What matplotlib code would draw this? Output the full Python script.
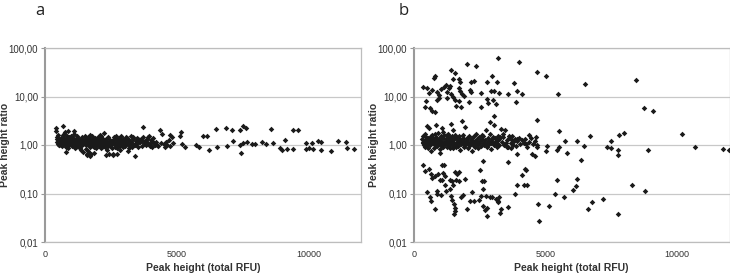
# -*- coding: utf-8 -*-

""" Peak height ratio vs peak height, panels a and b """

import matplotlib
matplotlib.use('Agg')
import matplotlib.pyplot as plt

plt.rcParams['font.family'] = ['Liberation Sans', 'DejaVu Sans']

y_ticks = [0.01, 0.1, 1, 10, 100]
y_tick_labels = ['0,01', '0,10', '1,00', '10,00', '100,00']
x_ticks = [0, 5000, 10000]
x_tick_labels = ['0', '5000', '10000']
panel_names = ['a', 'b']

# ---- panel a : dense band around 1 ----
a_x = [420, 430, 445, 460, 480, 500, 510, 530, 550, 570, 590, 460, 520, 560, 600, 610,
       640, 660, 700, 720, 740, 760, 780, 800, 820, 840, 860, 880, 900, 920, 940, 960, 980,
       650, 690, 730, 770, 810, 850, 890, 930, 970, 620, 750, 870, 990,
       1010, 1030, 1050, 1070, 1090, 1110, 1130, 1150, 1170, 1190, 1210, 1230, 1250, 1270,
       1290, 1310, 1330, 1350, 1370, 1390, 1410, 1430, 1450, 1470, 1490, 1020, 1060, 1100,
       1140, 1180, 1220, 1260, 1300, 1340, 1380, 1420, 1460, 1500,
       1520, 1540, 1560, 1580, 1600, 1620, 1640, 1660, 1680, 1700, 1720, 1740, 1760, 1780,
       1800, 1820, 1840, 1860, 1880, 1900, 1920, 1940, 1960, 1980, 2000, 1550, 1590, 1630,
       1670, 1710, 1750, 1790, 1830, 1870, 1910, 1950, 1610, 1690, 1770, 1850,
       2020, 2040, 2060, 2080, 2100, 2120, 2140, 2160, 2180, 2200, 2220, 2240, 2260, 2280,
       2300, 2320, 2340, 2360, 2380, 2400, 2420, 2440, 2460, 2480, 2500, 2050, 2090, 2130,
       2170, 2210, 2250, 2290, 2330, 2370, 2410, 2450,
       2520, 2540, 2560, 2580, 2600, 2620, 2640, 2660, 2680, 2700, 2720, 2740, 2760, 2780,
       2800, 2820, 2840, 2860, 2880, 2900, 2920, 2940, 2960, 2980, 3000, 2550, 2610, 2670,
       2730, 2790, 2850, 2910, 2970, 2570, 2690,
       3020, 3050, 3080, 3110, 3140, 3170, 3200, 3230, 3260, 3290, 3320, 3350, 3380, 3410,
       3440, 3470, 3500, 3530, 3560, 3590, 3060, 3120, 3180, 3240, 3300, 3360, 3420, 3480, 3540,
       3620, 3650, 3690, 3720, 3760, 3800, 3840, 3880, 3920, 3960, 4000, 4040, 4080, 4120,
       4160, 4200, 3670, 3740, 3820, 3900, 3980, 4060, 4140,
       4250, 4300, 4400, 4500, 4550, 4600, 4650, 4700, 4750, 4850,
       4353, 4454, 4759, 4810, 5165, 5127, 5216, 5305, 5749, 5850, 5990, 6155, 6231, 6485,
       6536, 6891, 7107, 6929, 7145, 7424, 7500, 7614, 7424, 7449, 7525, 7652, 7868, 7982,
       8236, 8376, 8591, 8668, 8921, 8985, 9112, 9201, 9416, 9607, 9429, 9911, 9911, 10038,
       10140, 10190, 10381, 10470, 10495, 10850, 11117, 11447, 11472, 11739]
a_y = [2.25, 1.95, 1.45, 1.15, 1.05, 1.62, 1.30, 1.10, 0.98, 1.20, 1.35, 1.30, 1.00, 1.15, 1.08, 1.40,
       1.25, 1.10, 2.45, 1.40, 1.70, 1.05, 1.18, 0.72, 1.55, 1.30, 1.95, 1.12, 1.00, 1.45, 1.22, 1.08, 1.35,
       0.95, 1.60, 1.15, 1.28, 0.90, 1.05, 1.38, 1.20, 1.50, 1.02, 1.85, 0.88, 1.15,
       1.20, 0.95, 1.40, 1.10, 1.65, 1.00, 1.25, 0.85, 1.12, 1.35, 0.98, 1.50, 1.05, 1.18,
       0.90, 1.30, 1.08, 1.22, 0.80, 1.45, 1.02, 1.15, 0.72, 1.28, 1.10, 1.32, 1.06, 1.90,
       1.16, 0.92, 1.42, 1.00, 1.20, 0.88, 1.12, 1.26, 1.04, 1.55,
       1.15, 0.82, 1.30, 1.05, 0.62, 1.48, 1.20, 0.68, 1.00, 1.35, 0.92, 1.10, 0.65, 1.25,
       1.55, 0.95, 1.12, 0.70, 1.38, 1.02, 1.18, 0.88, 1.28, 1.06, 1.45, 1.00, 1.22, 0.76,
       1.14, 1.60, 0.98, 1.08, 1.32, 0.90, 1.20, 1.04, 0.66, 0.60, 1.16, 1.24,
       1.10, 0.94, 1.28, 1.02, 1.62, 1.15, 0.88, 1.05, 1.40, 0.98, 1.20, 1.75, 1.08, 0.92,
       1.30, 1.00, 1.18, 0.80, 1.12, 1.45, 1.04, 0.65, 1.24, 0.95, 1.10, 1.35, 1.06, 1.52,
       0.90, 1.16, 1.00, 1.26, 0.62, 1.08, 0.96, 1.20,
       1.00, 1.22, 0.85, 1.10, 0.64, 1.35, 1.05, 0.92, 1.18, 1.50, 1.02, 0.88, 1.28, 1.12,
       0.98, 1.40, 1.06, 0.80, 1.20, 1.55, 1.00, 1.15, 0.90, 1.32, 1.08, 1.14, 1.45, 1.04,
       0.64, 1.24, 0.95, 1.10, 1.20, 0.62, 1.30,
       1.25, 0.95, 1.45, 1.08, 0.75, 1.30, 1.02, 1.18, 1.50, 0.92, 1.12, 1.35, 1.00, 0.58,
       1.22, 1.06, 1.40, 0.90, 1.15, 1.28, 1.10, 1.38, 0.88, 1.20, 1.05, 1.48, 1.00, 1.16, 1.32,
       1.15, 1.30, 0.95, 1.45, 1.08, 1.22, 0.98, 1.35, 1.12, 1.50, 1.05, 1.28, 0.92, 1.40,
       1.00, 1.18, 1.25, 2.35, 1.10, 1.48, 0.96, 1.20, 1.10,
       1.00, 0.95, 1.10, 1.05, 0.92, 1.15, 1.00, 1.25, 0.95, 1.10,
       2.07, 1.71, 1.58, 1.45, 1.88, 1.51, 1.05, 0.89, 1.00, 0.93, 1.51, 1.51, 0.78, 2.10,
       0.93, 2.20, 2.00, 0.97, 1.19, 2.00, 2.43, 2.20, 1.02, 0.68, 1.10, 1.17, 1.07, 1.03,
       1.15, 1.07, 2.17, 1.10, 0.85, 0.79, 1.26, 0.81, 2.07, 2.00, 0.81, 1.10, 0.83, 0.88,
       1.10, 0.83, 1.19, 1.13, 0.79, 0.76, 1.20, 1.15, 0.85, 0.83]

# ---- panel b : band around 1 plus upper and lower groups ----
b_x = [320, 340, 360, 380, 400, 420, 440, 460, 480, 500, 520, 540, 560, 580, 600, 620,
       640, 660, 680, 700, 350, 410, 470, 530, 590, 650,
       720, 740, 760, 780, 800, 820, 840, 860, 880, 900, 920, 940, 960, 980, 1000, 1020,
       1040, 1060, 1080, 1100, 1120, 1140, 1160, 1180, 1200, 730, 790, 850, 910, 970, 1030,
       1090, 1150,
       1220, 1240, 1260, 1280, 1300, 1320, 1340, 1360, 1380, 1400, 1420, 1440, 1460, 1480,
       1500, 1520, 1540, 1560, 1580, 1600, 1620, 1640, 1660, 1680, 1700, 1720, 1740, 1760,
       1780, 1800, 1250, 1310, 1370, 1430, 1490, 1550, 1610, 1670, 1730,
       1830, 1860, 1890, 1920, 1950, 1980, 2010, 2040, 2070, 2100, 2130, 2160, 2190, 2220,
       2250, 2280, 2310, 2340, 2370, 2400, 2430, 2460, 2490, 1850, 1910, 1970, 2030, 2090,
       2150, 2210, 2270, 2330, 2390, 2450,
       2520, 2550, 2580, 2610, 2640, 2670, 2700, 2730, 2760, 2790, 2820, 2850, 2880, 2910,
       2940, 2970, 3000, 3030, 3060, 3090, 3120, 3150, 3180, 3210, 3240, 3270, 2600, 2680,
       2760, 2840, 2920, 3000, 3080, 3160, 3240,
       3330, 3380, 3430, 3480, 3530, 3580, 3630, 3680, 3730, 3780, 3830, 3880, 3930, 3980,
       4030, 4100, 4170, 4240, 4310, 4380, 4450, 4520, 4600, 4680, 3400, 3500, 3600, 3700,
       3800, 3900,
       # upper group
       3206, 3982, 2000, 2354, 4682, 5025, 1412, 1552, 801, 750, 2952, 2786, 3168, 2277,
       2163, 3817, 6514, 8448, 344, 496, 1501, 1718, 1743, 1209, 1030, 1132, 1336, 1374,
       1718, 1768, 1807, 1908, 865, 941, 967, 700, 573, 1272, 1260, 1425, 1476, 1552, 1603,
       1718, 1781, 2112, 2150, 2557, 2099, 2532, 2774, 2913, 3028, 3002, 2812, 3104, 3219,
       3588, 3880, 3906, 4097, 5496, 878, 611, 407, 458, 687, 789, 8753, 9084,
       # sparse around 1
       4682, 3053, 2875, 1807, 5522, 5725, 5814, 6196, 6705, 6450, 6336, 7328, 7481, 7494,
       7786, 7977, 7761, 7761, 8906, 10204, 10674, 11768, 11985, 5025, 5076, 5458, 5534,
       4669, 4605, 4504, 4631, 4377, 4262, 3715, 3524, 3308, 3181, 3931, 3575, 2608,
       # lower group
       4758, 7748, 6603, 6768, 7201, 5687, 5344, 5153, 4733, 6043, 6145, 6209, 5433, 8308,
       8779, 4313, 4173, 4122, 4224, 4262, 3919, 3855, 3562, 3257, 3321, 3206, 3181, 3117,
       3232, 2888, 2952, 2748, 2774, 2697, 2774, 2621, 2532, 2481, 2659, 2595, 2519, 2608,
       2188, 2265, 2112, 2023, 1845, 1781, 1578, 1527, 1552, 1527, 1450, 1399, 1387, 1489,
       1603, 1628, 1705, 1578, 1730, 1934, 1374, 1450, 1196, 1069, 1043, 865, 789, 662,
       623, 496, 356, 420, 560, 636, 687, 789, 916, 1069, 1145, 980, 1120, 1196, 878, 1221]
b_y = [1.35, 1.10, 1.55, 1.00, 1.25, 0.90, 1.45, 1.15, 2.50, 1.05, 1.30, 0.85, 1.20, 2.20, 1.40, 1.00,
       1.12, 0.75, 1.60, 1.25, 1.18, 1.70, 0.95, 1.38, 1.08, 1.50,
       1.10, 1.42, 0.88, 1.20, 1.65, 1.02, 2.60, 1.28, 0.95, 1.15, 1.80, 1.05, 1.35, 0.82, 1.22, 1.50,
       1.00, 2.20, 1.12, 0.92, 1.40, 1.18, 1.60, 1.05, 1.30, 1.25, 1.00, 1.48, 1.15, 0.70, 1.32,
       1.85, 1.08,
       1.15, 0.90, 1.38, 1.05, 1.70, 1.20, 0.98, 1.45, 1.10, 2.70, 1.28, 1.00, 1.55, 0.85,
       1.18, 1.35, 1.02, 1.62, 1.12, 0.92, 1.40, 1.08, 1.25, 0.95, 1.50, 1.15, 0.80, 1.30,
       1.05, 1.22, 1.60, 1.12, 0.88, 1.32, 2.00, 1.00, 1.45, 1.10, 1.20,
       1.10, 1.40, 0.92, 1.22, 2.30, 1.05, 1.30, 0.85, 1.15, 1.55, 1.00, 1.25, 0.75, 1.38,
       1.08, 0.95, 1.20, 1.65, 1.02, 1.30, 0.88, 1.12, 1.45, 1.60, 1.00, 1.18, 1.42, 0.98,
       1.10, 1.28, 1.50, 0.92, 1.15, 1.05,
       1.20, 0.95, 1.35, 1.08, 1.50, 1.00, 1.28, 2.00, 1.12, 0.90, 1.42, 1.05, 1.65, 1.18,
       0.82, 1.30, 1.10, 2.60, 1.02, 1.38, 1.15, 0.92, 1.55, 1.25, 1.00, 1.45, 1.60, 1.10,
       0.98, 1.20, 1.08, 1.45, 1.18, 1.05, 1.30,
       1.15, 1.45, 1.00, 2.05, 1.25, 0.90, 1.38, 1.10, 1.55, 1.02, 1.30, 0.95, 1.20, 1.40,
       1.05, 1.25, 1.10, 1.30, 0.92, 1.15, 1.40, 1.05, 1.22, 0.98, 1.70, 1.12, 1.50, 0.85,
       1.20, 1.35,
       # upper group
       63, 51, 47, 43, 32, 26, 35, 30, 26, 24.5, 26, 20, 20, 21,
       20, 19, 18, 21.5, 16, 15, 23, 23, 20, 17, 14, 16, 15, 16.5,
       15, 13, 11.2, 10.2, 12.6, 10.5, 9.1, 13.5, 11.7, 12.6, 9.1, 11.5, 9.8, 8.5, 6.3,
       8.0, 6.0, 13.5, 12.3, 11.7, 7.8, 6.0, 8.7, 13.2, 12.9, 8.5, 7.4, 6.9, 11.7,
       11.2, 7.8, 13.2, 11.0, 11.2, 8.3, 5.9, 6.2, 7.9, 5.1, 4.7, 5.7, 5.1,
       # sparse around 1
       3.3, 3.9, 3.0, 3.2, 1.9, 1.2, 0.68, 1.23, 1.5, 0.94, 0.48, 0.89, 0.87, 1.2,
       1.58, 1.74, 0.80, 0.63, 0.80, 1.69, 0.92, 0.84, 0.79, 0.76, 0.94, 0.78, 0.91,
       0.90, 0.58, 0.64, 1.44, 1.58, 1.05, 1.27, 0.93, 2.1, 1.38, 0.65, 0.45, 0.47,
       # lower group
       0.027, 0.037, 0.049, 0.068, 0.077, 0.085, 0.10, 0.056, 0.062, 0.117, 0.145, 0.20, 0.19, 0.15,
       0.111, 0.15, 0.147, 0.237, 0.316, 0.30, 0.148, 0.096, 0.053, 0.039, 0.047, 0.069, 0.066, 0.078,
       0.085, 0.085, 0.085, 0.087, 0.051, 0.045, 0.035, 0.054, 0.087, 0.074, 0.18, 0.185, 0.30, 0.126,
       0.105, 0.07, 0.069, 0.048, 0.091, 0.083, 0.043, 0.038, 0.05, 0.062, 0.074, 0.087, 0.126, 0.151,
       0.193, 0.249, 0.275, 0.282, 0.178, 0.195, 0.193, 0.184, 0.151, 0.193, 0.095, 0.098, 0.047, 0.069,
       0.085, 0.107, 0.394, 0.288, 0.32, 0.257, 0.209, 0.234, 0.257, 0.389, 0.389, 0.193, 0.266, 0.234, 0.115, 0.111]

fig = plt.figure(figsize=(7.3, 2.8), dpi=100)

axes_pos = [[45 / 730, 38 / 280, 316 / 730, 194 / 280],
            [414 / 730, 38 / 280, 315.5 / 730, 194 / 280]]
data = [(a_x, a_y), (b_x, b_y)]
label_x = [5, 374]
letter_x = [40, 404]

for i, (xs, ys) in enumerate(data):
    ax = fig.add_axes(axes_pos[i])
    ax.set_yscale('log')
    ax.set_ylim(0.01, 100)
    ax.set_xlim(0, 12000)
    ax.scatter(xs, ys, marker='D', s=8, c='#1a1a1a', linewidths=0, zorder=3)

    ax.set_yticks(y_ticks)
    ax.set_yticklabels(y_tick_labels)
    ax.yaxis.set_minor_locator(plt.NullLocator())
    ax.set_xticks(x_ticks)
    ax.set_xticklabels(x_tick_labels)
    ax.tick_params(axis='y', labelsize=7, colors='#333333', length=3, width=0.8,
                   direction='out', pad=2)
    ax.tick_params(axis='y', color='#999999')
    ax.tick_params(axis='x', labelsize=6.5, colors='#333333', length=0, pad=6)

    ax.grid(axis='y', color='#c8c8c8', linewidth=0.9)
    ax.set_axisbelow(True)
    for side in ['top', 'right', 'bottom']:
        ax.spines[side].set_color('#bdbdbd')
        ax.spines[side].set_linewidth(0.9)
    ax.spines['left'].set_color('#9a9a9a')
    ax.spines['left'].set_linewidth(1.5)

    fig.text(label_x[i] / 730, 1 - 145 / 280, 'Peak height ratio', rotation=90,
             ha='center', va='center', fontsize=7.5, fontweight='bold', color='#333333')
    x0 = axes_pos[i][0] + axes_pos[i][2] / 2
    fig.text(x0, 1 - 268 / 280, 'Peak height (total RFU)', ha='center', va='center',
             fontsize=7.5, fontweight='bold', color='#333333')
    fig.text(letter_x[i] / 730, 1 - 11 / 280, panel_names[i], ha='center', va='center',
             fontsize=12, color='#222222', family=['Open Sans', 'DejaVu Sans'])

plt.savefig('out.png', dpi=100)
